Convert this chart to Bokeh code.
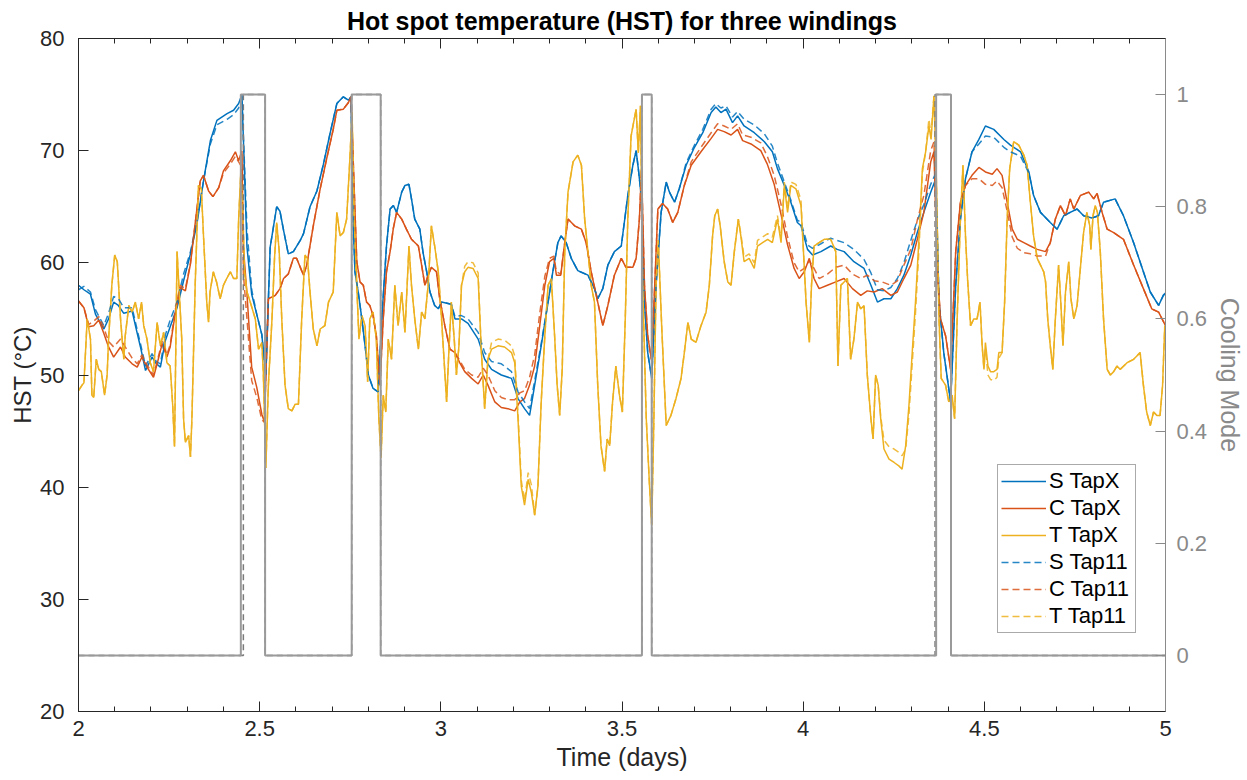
from bokeh.plotting import figure
from bokeh.models import (Range1d, LinearAxis, FixedTicker, CustomJSTickFormatter,
                          Legend, LegendItem)
from bokeh.embed import file_html
from bokeh.resources import INLINE

# ---------------- data ----------------
x_ticks = [2, 2.5, 3, 3.5, 4, 4.5, 5]
x_minor = [2.1, 2.2, 2.3, 2.4, 2.6, 2.7, 2.8, 2.9, 3.1, 3.2, 3.3, 3.4, 3.6, 3.7, 3.8, 3.9,
           4.1, 4.2, 4.3, 4.4, 4.6, 4.7, 4.8, 4.9]
y_ticks = [20, 30, 40, 50, 60, 70, 80]
cool_ticks = [0, 0.2, 0.4, 0.6, 0.8, 1]

# S winding
s_t = [
    2.000, 2.015, 2.033, 2.047, 2.070, 2.083, 2.097, 2.110, 2.125, 2.148,
    2.160, 2.171, 2.185, 2.203, 2.215, 2.226, 2.240, 2.253, 2.272, 2.290,
    2.309, 2.327, 2.345, 2.364, 2.382, 2.410, 2.428, 2.442, 2.451, 2.465,
    2.478, 2.492, 2.506, 2.512, 2.517, 2.529, 2.547, 2.556, 2.566, 2.579,
    2.593, 2.612, 2.621, 2.639, 2.658, 2.676, 2.694, 2.713, 2.731, 2.745,
    2.752, 2.758, 2.763, 2.772, 2.782, 2.791, 2.800, 2.813, 2.827, 2.837,
    2.850, 2.860, 2.869, 2.878, 2.892, 2.901, 2.912, 2.919, 2.928, 2.942,
    2.951, 2.961, 2.970, 2.983, 2.993, 3.002, 3.029, 3.039, 3.057, 3.075,
    3.103, 3.121, 3.140, 3.167, 3.195, 3.213, 3.231, 3.245, 3.259, 3.277,
    3.296, 3.309, 3.323, 3.332, 3.346, 3.360, 3.378, 3.406, 3.424, 3.433,
    3.447, 3.461, 3.479, 3.498, 3.516, 3.530, 3.539, 3.545, 3.553, 3.562,
    3.571, 3.582, 3.594, 3.608, 3.622, 3.631, 3.645, 3.658, 3.677, 3.700,
    3.723, 3.746, 3.759, 3.773, 3.787, 3.805, 3.819, 3.837, 3.865, 3.893,
    3.915, 3.929, 3.948, 3.966, 3.984, 3.994, 4.012, 4.026, 4.049, 4.076,
    4.094, 4.113, 4.140, 4.168, 4.187, 4.205, 4.223, 4.242, 4.260, 4.278,
    4.297, 4.315, 4.333, 4.352, 4.366, 4.375, 4.388, 4.407, 4.421, 4.434,
    4.448, 4.466, 4.485, 4.503, 4.526, 4.554, 4.572, 4.600, 4.623, 4.636,
    4.655, 4.682, 4.701, 4.719, 4.737, 4.756, 4.774, 4.797, 4.815, 4.829,
    4.861, 4.884, 4.912, 4.939, 4.958, 4.981, 4.994, 5.000]
s_tapx = [
    58.0, 57.6, 57.2, 55.4, 54.1, 55.0, 56.5, 56.2, 55.5, 55.7,
    54.0, 52.5, 50.4, 51.6, 51.0, 50.7, 53.1, 54.3, 56.0, 58.4,
    60.8, 63.5, 67.3, 70.9, 72.7, 73.3, 73.6, 74.2, 75.0, 61.4,
    57.2, 55.4, 53.6, 51.5, 50.0, 61.4, 65.0, 64.6, 62.9, 60.8,
    61.0, 62.0, 62.6, 65.0, 66.4, 68.8, 71.5, 74.2, 74.8, 74.5,
    74.8, 63.9, 59.2, 57.4, 55.0, 52.6, 50.0, 48.8, 48.5, 55.0,
    61.5, 64.8, 65.1, 64.5, 66.3, 66.9, 67.0, 65.7, 63.9, 63.0,
    60.9, 59.2, 57.4, 56.2, 55.9, 56.5, 56.3, 55.0, 55.0, 54.6,
    53.2, 51.4, 50.5, 50.0, 49.7, 47.9, 47.0, 46.4, 49.1, 52.6,
    56.5, 59.2, 61.8, 62.4, 61.8, 60.4, 59.3, 58.9, 57.7, 56.8,
    57.7, 59.8, 61.0, 61.5, 66.0, 68.7, 70.0, 68.4, 66.0, 56.5,
    52.0, 49.7, 58.0, 64.5, 67.2, 66.3, 65.4, 66.6, 68.7, 70.3,
    71.6, 73.4, 73.9, 73.4, 73.7, 72.5, 73.1, 72.2, 71.6, 70.8,
    69.9, 68.4, 66.9, 65.4, 63.6, 63.3, 61.2, 60.7, 61.0, 61.5,
    61.2, 61.0, 60.1, 59.5, 58.0, 56.5, 56.8, 56.8, 57.7, 58.9,
    60.7, 62.7, 64.5, 66.3, 67.5, 56.5, 52.0, 47.6, 58.0, 63.9,
    67.5, 69.9, 71.0, 72.2, 71.9, 71.0, 70.5, 69.9, 68.1, 66.0,
    64.5, 63.6, 63.0, 64.2, 64.5, 64.8, 64.2, 64.0, 64.2, 65.4,
    65.7, 64.2, 61.8, 59.2, 57.4, 56.2, 57.1, 57.3]
s_tap11 = [
    57.6, 57.9, 57.4, 55.8, 54.4, 55.5, 57.0, 56.8, 56.0, 56.0,
    54.3, 52.8, 50.8, 51.9, 51.2, 51.0, 53.6, 54.9, 56.5, 59.0,
    61.0, 63.7, 67.3, 70.6, 72.3, 72.8, 73.2, 73.8, 74.8, 63.0,
    57.6, 55.4, 53.6, 51.5, 50.0, 61.4, 65.0, 64.6, 62.9, 60.8,
    61.0, 62.0, 62.6, 65.0, 66.4, 68.8, 71.5, 74.2, 74.8, 74.5,
    74.8, 63.9, 59.2, 57.4, 55.0, 52.6, 50.0, 48.8, 48.5, 55.0,
    61.5, 64.8, 65.1, 64.5, 66.3, 66.9, 67.0, 65.7, 63.9, 63.0,
    60.9, 59.2, 57.4, 56.2, 55.9, 56.5, 56.3, 55.2, 55.3, 55.0,
    53.8, 52.0, 51.2, 51.0, 50.3, 48.5, 47.6, 47.0, 49.5, 52.8,
    56.5, 59.2, 61.8, 62.4, 61.8, 60.4, 59.3, 58.9, 57.7, 56.8,
    57.7, 59.8, 61.0, 61.5, 66.0, 68.7, 70.0, 68.4, 66.0, 56.5,
    52.0, 49.7, 58.0, 64.5, 67.2, 66.3, 65.4, 66.6, 68.9, 70.5,
    71.9, 73.7, 74.2, 73.8, 74.0, 73.0, 73.5, 72.8, 72.3, 71.5,
    70.4, 68.9, 67.2, 65.6, 63.8, 63.6, 61.6, 61.3, 61.7, 62.2,
    62.0, 61.8, 61.2, 60.3, 59.1, 57.6, 57.5, 57.8, 58.6, 60.0,
    62.0, 63.8, 65.2, 67.0, 68.0, 56.5, 52.0, 47.6, 58.0, 63.9,
    67.5, 69.9, 70.6, 71.3, 71.2, 70.3, 69.9, 69.5, 68.0, 66.0,
    64.5, 63.6, 63.0, 64.2, 64.5, 64.8, 64.2, 64.0, 64.2, 65.4,
    65.7, 64.2, 61.8, 59.2, 57.4, 56.2, 57.1, 57.3]

# C winding
c_t = [
    2.000, 2.015, 2.028, 2.042, 2.056, 2.070, 2.083, 2.097, 2.116, 2.129,
    2.148, 2.162, 2.175, 2.189, 2.207, 2.217, 2.231, 2.244, 2.253, 2.267,
    2.281, 2.295, 2.309, 2.322, 2.336, 2.345, 2.359, 2.371, 2.387, 2.400,
    2.419, 2.433, 2.442, 2.451, 2.455, 2.465, 2.478, 2.492, 2.506, 2.513,
    2.524, 2.543, 2.556, 2.566, 2.579, 2.593, 2.602, 2.621, 2.630, 2.648,
    2.667, 2.685, 2.703, 2.713, 2.731, 2.745, 2.752, 2.768, 2.777, 2.786,
    2.795, 2.804, 2.813, 2.822, 2.832, 2.841, 2.850, 2.860, 2.869, 2.878,
    2.892, 2.905, 2.919, 2.938, 2.947, 2.956, 2.965, 2.974, 2.988, 2.997,
    3.011, 3.025, 3.039, 3.052, 3.066, 3.085, 3.103, 3.117, 3.130, 3.149,
    3.167, 3.185, 3.204, 3.218, 3.231, 3.245, 3.259, 3.273, 3.287, 3.300,
    3.312, 3.319, 3.331, 3.342, 3.351, 3.369, 3.388, 3.401, 3.415, 3.433,
    3.447, 3.461, 3.479, 3.498, 3.511, 3.530, 3.539, 3.548, 3.554, 3.562,
    3.571, 3.581, 3.588, 3.599, 3.612, 3.626, 3.640, 3.654, 3.672, 3.691,
    3.718, 3.746, 3.764, 3.782, 3.801, 3.819, 3.833, 3.856, 3.883, 3.901,
    3.920, 3.939, 3.957, 3.975, 3.989, 4.003, 4.017, 4.030, 4.044, 4.067,
    4.090, 4.113, 4.136, 4.159, 4.177, 4.196, 4.218, 4.242, 4.260, 4.278,
    4.297, 4.315, 4.333, 4.352, 4.361, 4.370, 4.379, 4.393, 4.407, 4.421,
    4.434, 4.448, 4.466, 4.485, 4.503, 4.522, 4.535, 4.549, 4.563, 4.577,
    4.591, 4.609, 4.627, 4.646, 4.669, 4.682, 4.696, 4.710, 4.724, 4.737,
    4.747, 4.765, 4.788, 4.802, 4.811, 4.825, 4.839, 4.857, 4.884, 4.912,
    4.939, 4.962, 4.981, 5.000]
c_tapx = [
    56.6, 56.0, 54.3, 54.4, 54.9, 53.7, 52.5, 51.6, 52.5, 51.6,
    51.0, 50.7, 51.6, 50.7, 49.8, 51.0, 52.8, 51.6, 52.5, 55.5,
    57.8, 57.5, 59.9, 63.5, 67.3, 67.8, 66.4, 65.9, 66.7, 68.2,
    69.1, 69.9, 69.1, 70.0, 61.4, 57.2, 50.7, 48.9, 46.5, 45.8,
    56.8, 57.1, 57.7, 58.6, 59.0, 60.4, 60.4, 58.9, 59.8, 63.3,
    66.6, 69.3, 71.9, 73.6, 73.7, 74.3, 74.8, 60.1, 58.3, 58.0,
    56.5, 56.2, 55.3, 53.5, 49.1, 55.0, 59.2, 61.0, 63.1, 64.5,
    63.9, 63.0, 62.1, 61.5, 59.8, 58.0, 58.9, 59.6, 59.2, 56.8,
    54.4, 52.3, 52.0, 51.1, 50.3, 49.7, 49.2, 50.0, 49.1, 47.6,
    47.1, 47.0, 46.8, 47.6, 47.9, 49.1, 50.8, 54.4, 58.0, 60.1,
    60.4, 58.9, 58.9, 61.8, 63.9, 63.3, 63.0, 61.8, 59.2, 56.5,
    54.4, 56.2, 58.9, 60.4, 59.6, 59.6, 60.4, 63.9, 68.4, 58.0,
    53.5, 51.4, 56.2, 64.8, 65.3, 64.8, 63.6, 64.5, 66.9, 68.7,
    69.9, 71.1, 71.9, 71.7, 71.4, 71.9, 70.9, 70.6, 70.0, 68.8,
    67.0, 64.3, 61.6, 59.5, 58.6, 59.2, 60.4, 58.6, 57.7, 58.0,
    58.3, 58.6, 57.7, 57.1, 57.5, 57.4, 57.7, 57.1, 57.4, 58.6,
    59.8, 62.1, 64.5, 69.0, 69.9, 59.5, 55.0, 53.5, 50.5, 61.0,
    65.4, 66.9, 67.8, 68.5, 68.1, 67.9, 68.4, 67.8, 65.4, 63.0,
    62.1, 61.8, 61.5, 61.2, 61.0, 61.8, 63.9, 65.1, 64.2, 65.7,
    64.8, 66.0, 66.3, 65.7, 66.2, 64.5, 63.0, 62.7, 62.1, 59.8,
    57.7, 55.9, 55.6, 54.4]
c_tap11 = [
    56.6, 56.0, 54.5, 54.8, 55.2, 54.2, 53.0, 52.5, 53.2, 52.5,
    51.5, 51.0, 51.8, 50.9, 50.0, 51.2, 53.0, 51.8, 52.7, 55.8,
    58.0, 57.7, 60.0, 63.5, 67.3, 67.8, 66.4, 65.9, 66.7, 68.0,
    68.8, 69.5, 69.0, 68.5, 59.0, 55.0, 49.5, 48.0, 46.0, 45.8,
    56.8, 57.1, 57.7, 58.6, 59.0, 60.4, 60.4, 58.9, 59.8, 63.3,
    66.6, 69.3, 71.9, 73.6, 73.7, 74.3, 74.8, 60.1, 58.3, 58.0,
    56.5, 56.2, 55.3, 53.5, 49.1, 55.0, 59.2, 61.0, 63.1, 64.5,
    63.9, 63.0, 62.1, 61.5, 59.8, 58.0, 58.9, 59.6, 59.2, 56.8,
    54.4, 52.3, 52.0, 51.3, 50.5, 50.0, 49.8, 50.6, 50.0, 48.6,
    48.0, 47.8, 47.8, 48.4, 48.6, 49.8, 51.8, 55.5, 58.8, 60.4,
    60.6, 59.2, 59.0, 61.8, 63.9, 63.3, 63.0, 61.8, 59.2, 56.5,
    54.4, 56.2, 58.9, 60.4, 59.6, 59.6, 60.4, 63.9, 68.4, 58.0,
    53.5, 51.4, 56.2, 64.8, 65.3, 64.8, 63.6, 64.5, 66.9, 69.0,
    70.3, 71.6, 72.4, 72.2, 71.9, 72.4, 71.4, 71.2, 70.7, 69.5,
    67.8, 65.2, 62.3, 60.0, 59.2, 59.5, 60.2, 59.5, 58.6, 59.0,
    59.6, 59.8, 59.0, 58.6, 58.9, 58.4, 58.3, 58.0, 58.4, 59.8,
    61.2, 63.8, 66.0, 70.0, 70.8, 59.5, 55.0, 53.5, 50.5, 61.0,
    65.4, 66.9, 67.5, 67.5, 67.0, 66.9, 67.3, 66.7, 64.6, 62.3,
    61.3, 60.9, 60.8, 60.6, 60.6, 61.8, 63.9, 65.1, 64.2, 65.7,
    64.8, 66.0, 66.3, 65.7, 66.2, 64.5, 63.0, 62.7, 62.1, 59.8,
    57.7, 55.9, 55.6, 54.4]

# T winding
t_t = [
    2.000, 2.010, 2.015, 2.024, 2.033, 2.037, 2.042, 2.049, 2.056, 2.063,
    2.072, 2.079, 2.083, 2.092, 2.100, 2.107, 2.116, 2.125, 2.129, 2.139,
    2.148, 2.157, 2.166, 2.174, 2.180, 2.189, 2.198, 2.207, 2.217, 2.226,
    2.235, 2.244, 2.253, 2.260, 2.265, 2.272, 2.277, 2.285, 2.290, 2.295,
    2.304, 2.309, 2.313, 2.322, 2.331, 2.339, 2.345, 2.354, 2.359, 2.363,
    2.372, 2.381, 2.391, 2.400, 2.409, 2.419, 2.428, 2.437, 2.442, 2.448,
    2.453, 2.458, 2.465, 2.474, 2.488, 2.497, 2.506, 2.510, 2.517, 2.524,
    2.534, 2.541, 2.547, 2.554, 2.561, 2.570, 2.579, 2.589, 2.598, 2.607,
    2.616, 2.625, 2.632, 2.639, 2.648, 2.658, 2.667, 2.680, 2.690, 2.703,
    2.713, 2.722, 2.731, 2.740, 2.749, 2.755, 2.761, 2.768, 2.774, 2.782,
    2.791, 2.798, 2.804, 2.813, 2.822, 2.829, 2.835, 2.841, 2.848, 2.855,
    2.864, 2.873, 2.882, 2.892, 2.901, 2.912, 2.919, 2.928, 2.938, 2.947,
    2.956, 2.965, 2.974, 2.983, 2.993, 3.002, 3.016, 3.022, 3.029, 3.037,
    3.043, 3.050, 3.057, 3.066, 3.075, 3.089, 3.103, 3.112, 3.121, 3.130,
    3.140, 3.158, 3.176, 3.195, 3.204, 3.213, 3.222, 3.231, 3.241, 3.250,
    3.259, 3.268, 3.277, 3.287, 3.296, 3.305, 3.314, 3.321, 3.328, 3.335,
    3.342, 3.351, 3.365, 3.378, 3.388, 3.397, 3.406, 3.415, 3.424, 3.433,
    3.442, 3.452, 3.459, 3.466, 3.474, 3.483, 3.493, 3.501, 3.509, 3.516,
    3.525, 3.539, 3.545, 3.551, 3.557, 3.567, 3.576, 3.582, 3.588, 3.594,
    3.600, 3.610, 3.622, 3.635, 3.649, 3.663, 3.672, 3.682, 3.691, 3.704,
    3.718, 3.732, 3.741, 3.750, 3.756, 3.764, 3.771, 3.782, 3.792, 3.801,
    3.810, 3.821, 3.828, 3.837, 3.851, 3.865, 3.874, 3.888, 3.902, 3.915,
    3.929, 3.939, 3.948, 3.957, 3.966, 3.980, 3.994, 4.001, 4.008, 4.017,
    4.023, 4.030, 4.044, 4.058, 4.076, 4.090, 4.096, 4.104, 4.113, 4.122,
    4.131, 4.140, 4.150, 4.159, 4.168, 4.177, 4.187, 4.193, 4.200, 4.207,
    4.214, 4.223, 4.237, 4.251, 4.264, 4.273, 4.283, 4.292, 4.301, 4.310,
    4.320, 4.329, 4.338, 4.347, 4.353, 4.361, 4.368, 4.375, 4.381, 4.393,
    4.402, 4.411, 4.418, 4.425, 4.434, 4.441, 4.448, 4.454, 4.462, 4.471,
    4.480, 4.488, 4.494, 4.499, 4.503, 4.510, 4.517, 4.526, 4.535, 4.540,
    4.549, 4.556, 4.563, 4.570, 4.581, 4.595, 4.609, 4.618, 4.627, 4.636,
    4.646, 4.655, 4.664, 4.669, 4.675, 4.682, 4.689, 4.696, 4.705, 4.711,
    4.717, 4.724, 4.733, 4.739, 4.747, 4.756, 4.765, 4.774, 4.783, 4.791,
    4.794, 4.800, 4.806, 4.812, 4.820, 4.829, 4.839, 4.848, 4.857, 4.866,
    4.875, 4.894, 4.912, 4.921, 4.930, 4.939, 4.948, 4.958, 4.967, 4.976,
    4.985, 4.992, 4.998]
t_tapx = [
    48.6, 49.1, 49.3, 55.0, 53.2, 48.2, 48.0, 51.4, 50.5, 50.3,
    48.2, 50.0, 53.2, 58.0, 60.7, 60.1, 55.0, 51.4, 53.5, 56.2,
    55.6, 56.5, 55.0, 56.5, 54.4, 53.2, 51.1, 50.3, 54.7, 52.6,
    53.8, 51.1, 50.8, 47.3, 43.6, 61.0, 58.0, 53.2, 46.1, 44.0,
    44.6, 42.7, 46.1, 58.0, 66.9, 66.6, 62.4, 56.5, 54.7, 57.4,
    59.2, 58.3, 56.8, 58.0, 58.6, 59.2, 58.6, 58.6, 63.9, 68.1,
    65.4, 59.2, 57.4, 56.5, 55.0, 52.3, 52.9, 50.3, 41.7, 49.1,
    55.0, 60.4, 63.6, 61.0, 55.0, 49.1, 47.0, 46.8, 47.4, 47.4,
    55.0, 60.7, 60.4, 57.4, 54.1, 52.6, 54.1, 54.4, 56.5, 57.4,
    64.5, 62.4, 62.7, 63.9, 69.3, 73.4, 63.9, 58.0, 53.2, 55.3,
    54.4, 49.4, 55.0, 55.6, 53.2, 46.1, 42.6, 48.2, 46.7, 53.2,
    51.4, 58.0, 54.4, 57.4, 53.8, 61.5, 58.0, 55.0, 52.3, 55.6,
    55.0, 58.0, 63.3, 61.5, 59.2, 55.0, 47.6, 52.0, 56.5, 53.2,
    50.0, 52.6, 58.0, 59.2, 59.6, 59.5, 58.6, 52.0, 47.0, 51.4,
    52.3, 52.6, 52.5, 52.0, 51.1, 46.1, 40.1, 38.4, 40.7, 39.5,
    37.5, 40.1, 47.6, 53.5, 58.0, 58.6, 53.5, 49.1, 46.4, 50.5,
    61.0, 66.3, 69.0, 69.6, 68.7, 63.9, 61.0, 58.0, 56.5, 49.1,
    43.7, 41.4, 44.3, 43.7, 47.6, 50.8, 48.2, 46.7, 55.0, 63.9,
    71.3, 73.7, 69.8, 74.0, 58.0, 46.1, 40.1, 36.6, 46.1, 58.0,
    62.0, 54.0, 45.5, 46.4, 47.9, 49.7, 52.0, 54.7, 53.2, 52.9,
    54.4, 55.6, 58.0, 62.4, 64.2, 64.8, 63.3, 60.1, 58.3, 58.0,
    61.0, 63.9, 62.4, 60.1, 60.4, 59.5, 61.5, 61.8, 62.1, 61.8,
    63.9, 61.8, 66.9, 64.5, 66.9, 66.6, 65.1, 60.9, 56.5, 52.9,
    58.0, 61.5, 61.8, 62.1, 62.1, 61.0, 50.8, 58.0, 58.3, 58.6,
    51.4, 53.2, 56.5, 55.9, 56.2, 50.0, 46.1, 44.3, 50.0, 49.1,
    46.1, 43.4, 42.5, 42.2, 41.9, 41.6, 43.7, 47.3, 52.0, 56.5,
    62.4, 68.4, 69.9, 72.2, 71.0, 74.9, 66.9, 55.0, 49.7, 49.1,
    47.6, 48.2, 46.1, 55.0, 63.9, 68.7, 62.4, 58.4, 54.4, 55.0,
    55.0, 56.5, 52.6, 50.5, 52.9, 50.8, 50.3, 50.3, 50.5, 52.0,
    52.0, 56.5, 63.9, 68.4, 70.8, 70.5, 69.6, 68.7, 65.4, 62.4,
    60.4, 59.8, 59.2, 58.3, 55.0, 52.6, 50.5, 55.0, 59.8, 56.5,
    52.6, 57.4, 60.1, 56.8, 55.0, 56.2, 59.5, 62.7, 64.5, 63.3,
    61.2, 64.2, 65.1, 64.5, 61.0, 55.0, 50.5, 50.0, 50.3, 50.8,
    50.5, 51.1, 51.4, 51.7, 52.0, 49.1, 46.7, 45.5, 46.7, 46.4,
    46.4, 49.1, 54.4]
t_tap11 = [
    48.6, 49.1, 49.3, 55.0, 53.2, 48.2, 48.0, 51.4, 50.5, 50.3,
    48.2, 50.0, 53.2, 58.0, 60.7, 60.1, 55.0, 51.4, 53.5, 56.2,
    55.6, 56.5, 55.0, 56.5, 54.4, 53.2, 51.1, 50.3, 54.7, 52.6,
    53.8, 51.1, 50.8, 47.3, 43.6, 61.0, 58.0, 53.2, 46.1, 44.0,
    44.6, 42.7, 46.1, 58.0, 66.9, 66.6, 62.4, 56.5, 54.7, 57.4,
    59.2, 58.3, 56.8, 58.0, 58.6, 59.2, 58.6, 58.6, 63.9, 68.1,
    65.4, 59.2, 57.4, 56.5, 55.0, 52.3, 52.9, 50.3, 41.7, 49.1,
    55.0, 60.4, 63.6, 61.0, 55.0, 49.1, 47.0, 46.8, 47.4, 47.4,
    55.0, 60.7, 60.4, 57.4, 54.1, 52.6, 54.1, 54.4, 56.5, 57.4,
    64.5, 62.4, 62.7, 63.9, 69.3, 73.4, 63.9, 58.0, 53.2, 55.3,
    54.4, 49.4, 55.0, 55.6, 53.2, 46.1, 42.6, 48.2, 46.7, 53.2,
    51.4, 58.0, 54.4, 57.4, 53.8, 61.5, 58.0, 55.0, 52.3, 55.6,
    55.0, 58.0, 63.3, 61.5, 59.2, 55.0, 47.6, 52.0, 56.5, 53.2,
    50.0, 52.6, 58.0, 59.7, 60.1, 60.0, 59.1, 52.0, 47.0, 51.4,
    52.9, 53.2, 53.1, 52.6, 51.7, 46.6, 40.6, 38.8, 41.3, 40.2,
    37.5, 40.1, 47.6, 53.5, 58.0, 58.6, 53.5, 49.1, 46.4, 50.5,
    61.0, 66.3, 69.0, 69.6, 68.7, 63.9, 61.0, 58.0, 56.5, 49.1,
    43.7, 41.4, 44.3, 43.7, 47.6, 50.8, 48.2, 46.7, 55.0, 63.9,
    71.3, 73.7, 69.8, 74.0, 58.0, 46.1, 40.1, 36.6, 46.1, 58.0,
    62.0, 54.0, 45.5, 46.4, 47.9, 49.7, 52.0, 54.7, 53.2, 52.9,
    54.4, 55.6, 58.0, 62.4, 64.2, 64.8, 63.3, 60.1, 58.3, 58.0,
    61.0, 63.9, 62.6, 60.5, 60.8, 60.0, 62.0, 62.3, 62.6, 62.3,
    64.2, 62.2, 67.2, 64.9, 67.2, 67.0, 65.6, 60.9, 56.5, 52.9,
    58.0, 61.5, 61.8, 62.1, 62.1, 61.0, 50.8, 58.0, 58.3, 58.6,
    51.4, 53.2, 56.5, 55.9, 56.2, 50.0, 46.1, 44.3, 50.0, 49.1,
    46.3, 44.2, 43.6, 43.4, 43.1, 42.8, 43.4, 46.5, 51.0, 55.5,
    61.4, 68.0, 69.9, 72.8, 71.5, 74.9, 66.9, 55.0, 49.7, 49.1,
    47.6, 48.2, 46.1, 55.0, 63.9, 68.7, 62.4, 58.4, 54.4, 55.0,
    55.0, 56.5, 52.6, 50.5, 52.3, 50.0, 49.6, 49.5, 49.8, 51.5,
    52.0, 56.5, 63.9, 68.4, 70.8, 70.5, 69.6, 68.7, 65.4, 62.4,
    60.4, 59.8, 59.2, 58.3, 55.0, 52.6, 50.5, 55.0, 59.8, 56.5,
    52.6, 57.4, 60.1, 56.8, 55.0, 56.2, 59.5, 62.7, 64.5, 63.3,
    61.2, 64.2, 65.1, 64.5, 61.0, 55.0, 50.5, 50.0, 50.3, 50.8,
    50.5, 51.1, 51.4, 51.7, 52.0, 49.1, 46.7, 45.5, 46.7, 46.4,
    46.4, 49.1, 54.4]

# Cooling mode (right axis): switching instants and state held after each
cool_t_x = [2.0, 2.448, 2.515, 2.754, 2.834, 3.555, 3.582, 4.367, 4.408, 5.0]
cool_t_11 = [2.0, 2.455, 2.515, 2.754, 2.834, 3.555, 3.582, 4.364, 4.408, 5.0]
cool_state = [0, 1, 0, 1, 0, 1, 0, 1, 0, 0]

# ---------------- figure ----------------
FONT = "Liberation Sans"
AX = "#262626"
GRAY = "#8a8a8a"
BLUE, RED, YEL = "#0072BD", "#D95319", "#EDB120"

p = figure(width=1247, height=780, output_backend="svg", toolbar_location=None,
           x_range=Range1d(2, 5), y_range=Range1d(20, 80),
           min_border_left=78, min_border_right=80, min_border_top=38,
           min_border_bottom=69, background_fill_color="white",
           border_fill_color="white")
p.extra_y_ranges = {"cool": Range1d(-0.1, 1.1)}
p.grid.visible = False
p.outline_line_color = AX
p.outline_line_width = 1

p.title.text = "Hot spot temperature (HST) for three windings"
p.title.align = "center"
p.title.text_font = FONT
p.title.text_font_size = "25px"
p.title.text_font_style = "bold"
p.title.text_color = "black"
p.title.standoff = 7

fmt = CustomJSTickFormatter(code="return tick.toString();")

xa = p.xaxis[0]
xa.ticker = FixedTicker(ticks=x_ticks, minor_ticks=x_minor)
xa.formatter = fmt
xa.axis_label = "Time (days)"
ya = p.yaxis[0]
ya.ticker = FixedTicker(ticks=y_ticks)
ya.formatter = fmt
ya.axis_label = "HST (°C)"
for ax in (xa, ya):
    ax.axis_line_color = AX
    ax.major_tick_line_color = AX
    ax.minor_tick_line_color = AX
    ax.major_tick_in = 10
    ax.major_tick_out = 0
    ax.minor_tick_in = 5
    ax.minor_tick_out = 0
    ax.major_label_text_font = FONT
    ax.major_label_text_font_size = "22px"
    ax.major_label_text_color = AX
    ax.axis_label_text_font = FONT
    ax.axis_label_text_font_size = "24px"
    ax.axis_label_text_font_style = "normal"
    ax.axis_label_text_color = AX
ya.minor_tick_in = 0
xa.axis_label_text_font_size = "25px"
xa.major_label_standoff = 9
xa.axis_label_standoff = 4
ya.major_label_standoff = 14
ya.axis_label_standoff = 1

top = LinearAxis(ticker=FixedTicker(ticks=x_ticks, minor_ticks=x_minor),
                 formatter=CustomJSTickFormatter(code="return '';"),
                 axis_line_color=AX, major_tick_line_color=AX, minor_tick_line_color=AX,
                 major_tick_in=10, major_tick_out=0, minor_tick_in=5, minor_tick_out=0,
                 major_label_standoff=0, major_label_text_font_size="8px")
p.add_layout(top, "above")

right = LinearAxis(y_range_name="cool", ticker=FixedTicker(ticks=cool_ticks),
                   formatter=fmt, axis_label="Cooling Mode",
                   axis_line_color=GRAY, major_tick_line_color=GRAY,
                   major_tick_in=10, major_tick_out=0, minor_tick_in=0, minor_tick_out=0,
                   major_label_text_font=FONT, major_label_text_font_size="22px",
                   major_label_text_color=GRAY, major_label_standoff=11,
                   axis_label_text_font=FONT, axis_label_text_font_size="25px",
                   axis_label_text_font_style="normal", axis_label_text_color=GRAY,
                   axis_label_standoff=6)
p.add_layout(right, "right")

LW = 1.5
DASH = "7 4"
r1 = p.line(s_t, s_tapx, line_color=BLUE, line_width=LW)
r2 = p.line(c_t, c_tapx, line_color=RED, line_width=LW)
r3 = p.line(t_t, t_tapx, line_color=YEL, line_width=LW)
r4 = p.line(s_t, s_tap11, line_color=BLUE, line_width=LW, line_dash=DASH, line_alpha=0.85)
r5 = p.line(c_t, c_tap11, line_color=RED, line_width=LW, line_dash=DASH, line_alpha=0.85)
r6 = p.line(t_t, t_tap11, line_color=YEL, line_width=LW, line_dash=DASH, line_alpha=0.85)

p.step(cool_t_11, cool_state, mode="after", y_range_name="cool",
       line_color="#7a7a7a", line_width=1.5, line_dash="6 4")
p.step(cool_t_x, cool_state, mode="after", y_range_name="cool",
       line_color="#9a9a9a", line_width=2)

legend = Legend(items=[
    LegendItem(label="S TapX", renderers=[r1]),
    LegendItem(label="C TapX", renderers=[r2]),
    LegendItem(label="T TapX", renderers=[r3]),
    LegendItem(label="S Tap11", renderers=[r4]),
    LegendItem(label="C Tap11", renderers=[r5]),
    LegendItem(label="T Tap11", renderers=[r6]),
], location=(919, 78))
legend.label_text_font = FONT
legend.label_text_font_size = "22px"
legend.label_text_color = "black"
legend.glyph_width = 45
legend.glyph_height = 20
legend.label_height = 20
legend.label_width = 83
legend.label_standoff = 3
legend.spacing = 1
legend.padding = 3
legend.margin = 0
legend.border_line_color = "#555555"
legend.border_line_width = 1
legend.background_fill_color = "white"
legend.background_fill_alpha = 1
p.add_layout(legend)

open("out.html", "w").write(file_html(p, INLINE))
